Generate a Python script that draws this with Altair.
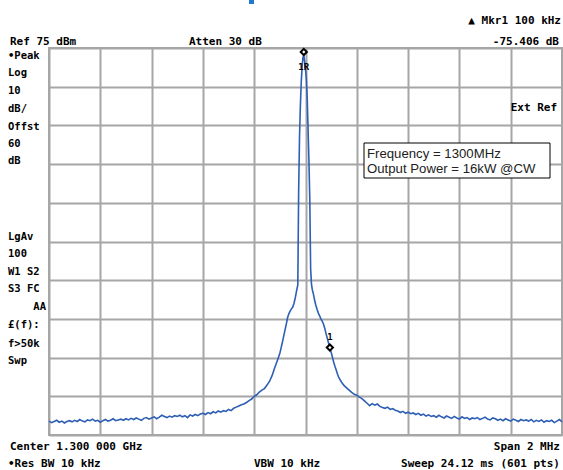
import altair as alt
import pandas as pd

# ---------------- data (offset from 1.300 GHz in kHz, level in dBm) ----------------
left_freq = list(range(-1000, -200, 10))
left_level = [
    -21.4, -21.8, -21.5, -21.2, -21.7, -21.4, -21.9, -21.5, -21.3, -21.6,
    -21.2, -21.5, -21.0, -21.4, -21.6, -21.1, -21.3, -20.9, -21.4, -21.2,
    -21.7, -21.3, -21.0, -21.4, -21.2, -20.8, -21.3, -21.1, -20.9, -21.2,
    -20.8, -21.1, -20.7, -21.0, -20.6, -20.9, -21.2, -20.7, -20.5, -20.9,
    -20.6, -20.3, -20.8, -20.4, -19.9, -20.2, -20.5, -20.1, -20.4, -20.0,
    -20.2, -19.9, -20.3, -20.0, -20.5, -19.8, -20.1, -19.7, -20.0, -19.6,
    -19.4, -19.7, -19.2, -19.5, -19.0, -19.3, -18.8, -19.1, -18.7, -18.9,
    -18.4, -18.7, -18.1, -17.8, -17.5,
    -17.2, -17.0, -16.6, -16.1, -15.7,
]
center_freq = [
    -200, -190, -180, -170, -160, -150, -140, -130, -120, -110, -100, -90, -80,
    -75, -70, -65, -60, -55, -50, -45, -40, -35, -30,
    -26.7, -23.3, -20, -16.7, -13.3, -10, -6.7, -3.3, 0, 3.3, 6.7, 10, 13.3,
    16.7, 20, 23.3, 26.7, 30,
    35, 40, 45, 50, 55, 60, 65, 70, 75, 80, 85, 90, 95, 100, 105, 110, 115,
    120, 125, 130,
    140, 150, 160, 170, 180, 190, 200, 210, 220, 230, 240, 250,
]
center_level = [
    -15.0, -14.6, -13.9, -13.4, -13.0, -12.1, -11.1, -9.6, -7.6, -5.8, -3.9, -1.0, 2.1,
    3.6, 5.3, 6.3, 7.0, 7.6, 8.0, 9.0, 10.4, 12.2, 13.8,
    38, 52, 60, 66, 70, 72.5, 73.2, 71.5, 69.5, 67, 62, 54, 46,
    36, 18, 14, 12.5, 11.7,
    10.0, 8.6, 7.5, 6.5, 5.8, 5.0, 4.4, 3.7, 2.6, 1.2, 0.0, -1.3, -2.4, -3.6,
    -4.9, -6.2, -7.3, -8.3, -9.3, -10.2,
    -11.3, -12.2, -12.8, -13.4, -14.0, -14.5, -14.7, -15.2, -15.6, -16.2, -16.8, -17.4,
]
right_freq = list(range(260, 1010, 10))
right_level = [
    -16.9, -17.3, -17.0, -17.6, -17.9, -18.1, -17.8, -18.4, -18.2, -18.6,
    -18.8, -19.2, -18.9, -19.4, -19.1, -19.5, -19.3, -19.7, -19.4, -19.9,
    -19.6, -20.1, -19.8, -20.2, -20.0, -20.4, -19.9, -20.3, -20.6, -20.1,
    -20.4, -20.7, -20.2, -20.6, -20.9, -20.3, -20.7, -20.5, -21.0, -20.6,
    -20.8, -20.5, -21.0, -20.7, -20.4, -20.9, -21.1, -20.6, -20.8, -21.2,
    -20.9, -21.3, -20.8, -21.1, -21.4, -20.9, -21.2, -21.5, -21.0, -21.3,
    -21.1, -21.4, -21.0, -21.6, -21.2, -21.5, -21.1, -21.7, -21.3, -21.5,
    -21.2, -21.8, -21.4, -21.0, -21.6,
]
marker_freq = [-6.7, 95]
marker_level = [73.2, -2.4]
marker_label = ["1R", "1"]

x_grid = [-1000, -800, -600, -400, -200, 0, 200, 400, 600, 800, 1000]
y_grid = [-25, -15, -5, 5, 15, 25, 35, 45, 55, 65, 75]

trace = pd.DataFrame({
    "f": left_freq + center_freq + right_freq,
    "dbm": left_level + center_level + right_level,
})
markers = pd.DataFrame({"f": marker_freq, "dbm": marker_level, "lab": marker_label})

# ---------------- layout ----------------
W, H = 513, 387
PL, PT = 49, 48
MONO = "DejaVu Sans Mono"
GRID = "#a6a6a6"

xs = alt.Scale(domain=[-1000, 1000], nice=False, zero=False)
ys = alt.Scale(domain=[-25, 75], nice=False, zero=False)
xax = alt.Axis(values=x_grid, tickCount=30, grid=True, gridColor=GRID, gridWidth=2,
               labels=False, ticks=False, domain=False, title=None)
yax = alt.Axis(values=y_grid, tickCount=30, grid=True, gridColor=GRID, gridWidth=2,
               labels=False, ticks=False, domain=False, title=None)

line = alt.Chart(trace).mark_line(color="#2d5fb5", strokeWidth=1.6).encode(
    x=alt.X("f:Q", scale=xs, axis=xax),
    y=alt.Y("dbm:Q", scale=ys, axis=yax),
    order="f:Q",
)

pts = alt.Chart(markers).mark_point(shape="diamond", size=38, filled=False,
                                    color="black", strokeWidth=2, fill="white",
                                    fillOpacity=1).encode(
    x=alt.X("f:Q", scale=xs, axis=xax), y=alt.Y("dbm:Q", scale=ys, axis=yax)
)
peak_pt = pts.transform_filter(alt.datum.lab == "1R").mark_point(
    shape="diamond", size=38, filled=False, color="black", strokeWidth=2,
    fill="white", fillOpacity=1, yOffset=-3)
mk_pt = pts.transform_filter(alt.datum.lab == "1")
peak_lab = alt.Chart(markers).transform_filter(alt.datum.lab == "1R").mark_text(
    font=MONO, fontWeight="bold", fontSize=9, dy=12, color="black").encode(
    x=alt.X("f:Q", scale=xs, axis=xax), y=alt.Y("dbm:Q", scale=ys, axis=yax), text="lab:N")
mk_lab = alt.Chart(markers).transform_filter(alt.datum.lab == "1").mark_text(
    font=MONO, fontWeight="bold", fontSize=9, dy=-11, color="black").encode(
    x=alt.X("f:Q", scale=xs, axis=xax), y=alt.Y("dbm:Q", scale=ys, axis=yax), text="lab:N")

annotations = [
    # text, x, y(baseline), align, size
    ("\u25b2 Mkr1  100 kHz", 561, 24, "right", 11),
    ("Ref 75 dBm", 10, 45, "left", 11),
    ("Atten 30 dB", 189, 45, "left", 11),
    ("-75.406 dB", 559, 45, "right", 11),
    ("\u2022Peak", 8, 59, "left", 10.5),
    ("Log", 8, 76, "left", 10.5),
    ("10", 8, 94, "left", 10.5),
    ("dB/", 8, 112, "left", 10.5),
    ("Offst", 8, 130, "left", 10.5),
    ("60", 8, 147, "left", 10.5),
    ("dB", 8, 164, "left", 10.5),
    ("LgAv", 8, 240, "left", 10.5),
    ("100", 8, 257, "left", 10.5),
    ("W1  S2", 8, 275, "left", 10.5),
    ("S3  FC", 8, 292, "left", 10.5),
    ("AA", 46, 310, "right", 10.5),
    ("\u00a3(f):", 8, 328, "left", 10.5),
    ("f>50k", 8, 347, "left", 10.5),
    ("Swp", 8, 364, "left", 10.5),
    ("Ext Ref", 557, 111, "right", 11),
    ("Center 1.300 000 GHz", 10, 450, "left", 11),
    ("Span 2 MHz", 560, 450, "right", 11),
    ("\u2022Res BW 10 kHz", 8, 467, "left", 11),
    ("VBW 10 kHz", 254, 467, "left", 11),
    ("Sweep 24.12 ms (601 pts)", 560, 467, "right", 11),
]

layers = [line]
for txt, ax, ay, al, fs in annotations:
    layers.append(
        alt.Chart(pd.DataFrame({"t": [txt]})).mark_text(
            font=MONO, fontWeight="bold", fontSize=fs, align=al, baseline="alphabetic",
            color="black").encode(
            x=alt.value(ax - PL), y=alt.value(ay - PT), text="t:N")
    )

# info box
box = alt.Chart(pd.DataFrame({"a": [0]})).mark_rect(
    fill="white", stroke="black", strokeWidth=1).encode(
    x=alt.value(364 - PL), x2=alt.value(550 - PL),
    y=alt.value(143 - PT), y2=alt.value(178 - PT))
box_lines = [("Frequency = 1300MHz", 158), ("Output Power = 16kW @CW", 173)]
box_txt = [
    alt.Chart(pd.DataFrame({"t": [t]})).mark_text(
        font="Liberation Sans", fontSize=13.2, align="left", baseline="alphabetic",
        color="#222222").encode(x=alt.value(367 - PL), y=alt.value(by - PT), text="t:N")
    for t, by in box_lines
]
blue_tab = alt.Chart(pd.DataFrame({"a": [0]})).mark_rect(color="#1f78d1").encode(
    x=alt.value(249 - PL), x2=alt.value(254 - PL),
    y=alt.value(0 - PT), y2=alt.value(4 - PT))

chart = alt.layer(*layers, box, *box_txt, peak_pt, mk_pt, peak_lab, mk_lab, blue_tab).properties(
    width=W, height=H,
    autosize=alt.AutoSizeParams(type="none"),
    padding={"left": PL, "top": PT, "right": 563 - PL - W, "bottom": 470 - PT - H},
    background="white",
).configure_view(stroke=GRID, strokeWidth=2)

chart.save("out.html", embed_options={"renderer": "svg", "actions": False})
